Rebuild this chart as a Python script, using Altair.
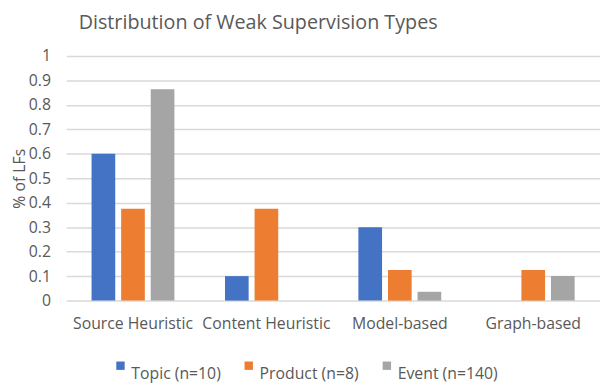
import altair as alt
import pandas as pd

categories = ["Source Heuristic", "Content Heuristic", "Model-based", "Graph-based"]
series = ["Topic (n=10)", "Product (n=8)", "Event (n=140)"]
topic = [0.6, 0.1, 0.3, 0.0]
product = [0.375, 0.375, 0.125, 0.125]
event = [0.864, 0.0, 0.036, 0.1]
colors = ["#4472C4", "#ED7D31", "#A5A5A5"]
y_ticks = [0, 0.1, 0.2, 0.3, 0.4, 0.5, 0.6, 0.7, 0.8, 0.9, 1]

rows = []
for s, vals in zip(series, [topic, product, event]):
    for c, v in zip(categories, vals):
        rows.append({"category": c, "series": s, "value": v})
df = pd.DataFrame(rows)

FONT = "Open Sans"
GREY = "#595959"

chart = alt.Chart(df).mark_bar().encode(
    x=alt.X("category:N", sort=categories,
            scale=alt.Scale(paddingInner=0.379, paddingOuter=0.19),
            axis=alt.Axis(title=None, labelAngle=0, domain=False, ticks=False,
                          labelPadding=15, labelFontSize=16, labelColor=GREY,
                          labelFont=FONT)),
    xOffset=alt.XOffset("series:N", sort=series, scale=alt.Scale(paddingInner=0.2)),
    y=alt.Y("value:Q", scale=alt.Scale(domain=[0, 1]),
            axis=alt.Axis(values=y_ticks, format=".1~f", title="% of LFs",
                          domain=False, ticks=False, labelPadding=16,
                          labelFontSize=16, labelColor=GREY, labelFont=FONT,
                          titleFont=FONT, titleFontSize=16, titleColor=GREY,
                          titleFontWeight="normal", titlePadding=1,
                          gridColor="#d9d9d9", gridWidth=1.5)),
    color=alt.Color("series:N", sort=series,
                    scale=alt.Scale(domain=series, range=colors),
                    legend=alt.Legend(orient="none", legendX=47, legendY=306,
                                      direction="horizontal", title=None,
                                      symbolType="square", symbolSize=72,
                                      symbolStrokeWidth=0,
                                      labelFontSize=16, labelFont=FONT,
                                      labelColor=GREY, labelOffset=3,
                                      labelBaseline="top",
                                      columnPadding=20)),
).properties(
    width=541, height=248,
    padding={"left": 3, "top": 3, "right": 0, "bottom": 0},
    title=alt.TitleParams("Distribution of Weak Supervision Types",
                          font=FONT, fontSize=20, fontWeight="normal",
                          color=GREY, anchor="middle", frame="group",
                          dx=-76, offset=15),
).configure_view(strokeWidth=0)

chart.save("out.html", embed_options={"renderer": "svg", "actions": False})
